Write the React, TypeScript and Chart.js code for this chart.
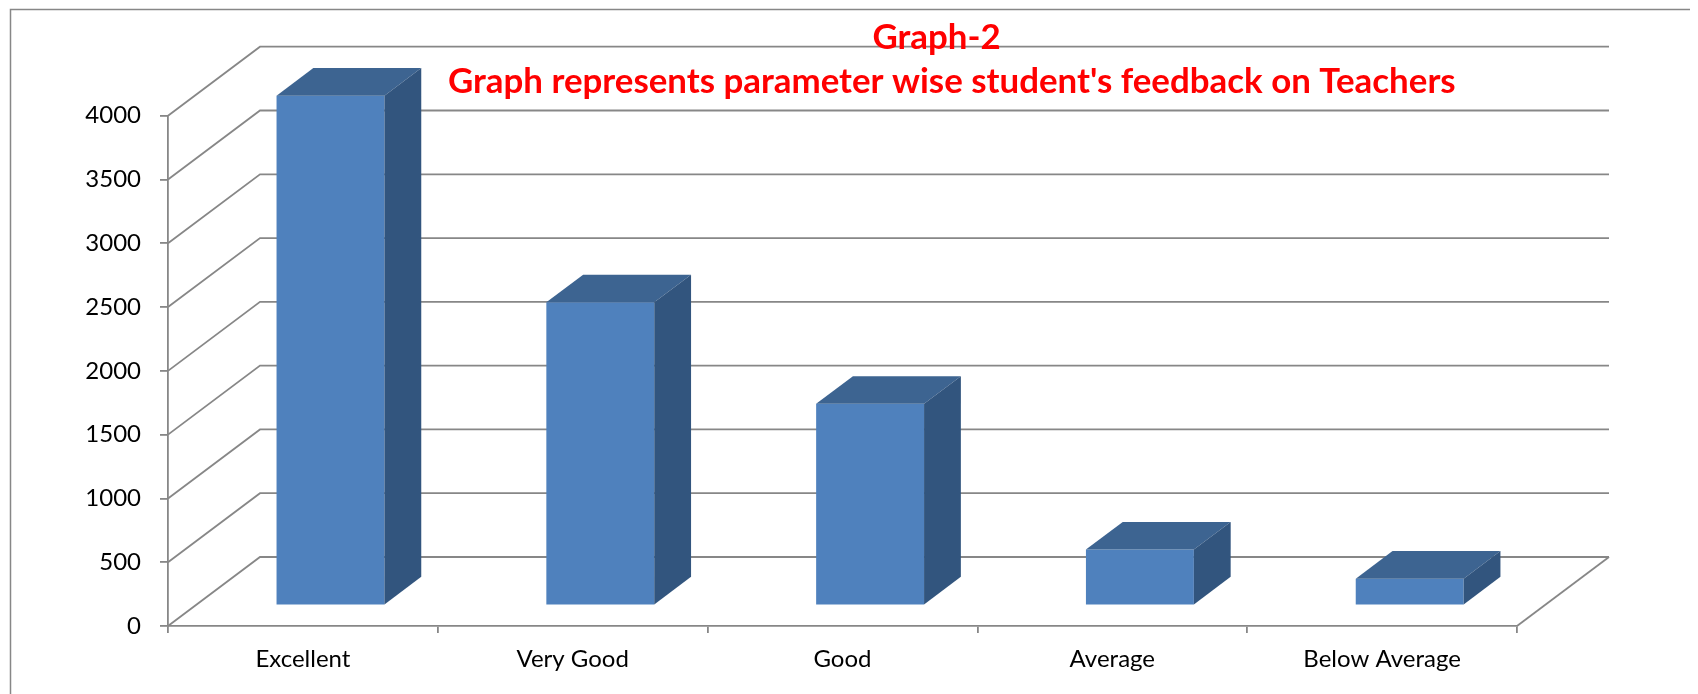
import React, { useEffect, useRef } from 'react';
import { Chart, registerables } from 'chart.js';

Chart.register(...registerables);

// ---- data ----
const categories = ['Excellent', 'Very Good', 'Good', 'Average', 'Below Average'];
const feedbackCounts = [3995, 2375, 1580, 437, 209];
const yMin = 0;
const yMax = 4000;
const yStep = 500;
const titleLines = ['Graph-2', "Graph represents parameter wise student's feedback on Teachers"];

// ---- style ----
const GRID = '#878787';
const FRONT = '#4F81BD';
const TOP = '#3D6491';
const SIDE = '#32557E';
const TITLE_RED = '#FF0000';
const FONT = 'Lato, "Open Sans", sans-serif';
// projection of the chart depth (wall offset)
const DX = 92;
const DY = -69;
const BAR_FRONT = 0.3;
const BAR_DEPTH = 0.4;
const LINE_W = 1.8;

const threeDPlugin = {
  id: 'threeD',
  beforeDraw(chart: any) {
    const { ctx } = chart;
    ctx.save();
    ctx.fillStyle = '#ffffff';
    ctx.fillRect(0, 0, chart.width, chart.height);
    ctx.strokeStyle = GRID;
    ctx.lineWidth = 1.5;
    ctx.beginPath();
    ctx.moveTo(2.5, chart.height + 10);
    ctx.lineTo(2.5, 1.5);
    ctx.lineTo(chart.width + 10, 1.5);
    ctx.stroke();
    ctx.restore();
  },
  beforeDatasetsDraw(chart: any) {
    const { ctx, chartArea, scales } = chart;
    const y = scales.y;
    ctx.save();
    ctx.strokeStyle = GRID;
    ctx.lineWidth = LINE_W;
    y.ticks.forEach((t: any) => {
      const py = y.getPixelForValue(t.value);
      ctx.beginPath();
      ctx.moveTo(chartArea.left, py);
      ctx.lineTo(chartArea.left + DX, py + DY);
      ctx.lineTo(chartArea.right + DX, py + DY);
      ctx.stroke();
    });
    const p0 = y.getPixelForValue(yMin);
    ctx.beginPath();
    ctx.moveTo(chartArea.right, p0);
    ctx.lineTo(chartArea.right + DX, p0 + DY);
    ctx.stroke();
    ctx.restore();
    ctx.save();
    ctx.translate(BAR_FRONT * DX, BAR_FRONT * DY);
  },
  afterDatasetsDraw(chart: any) {
    const { ctx } = chart;
    ctx.restore();
    const fx = BAR_FRONT * DX;
    const fy = BAR_FRONT * DY;
    const bx = BAR_DEPTH * DX;
    const by = BAR_DEPTH * DY;
    const meta = chart.getDatasetMeta(0);
    ctx.save();
    meta.data.forEach((bar: any) => {
      const { x, y, base, width } = bar.getProps(['x', 'y', 'base', 'width'], true);
      const L = x - width / 2 + fx;
      const R = x + width / 2 + fx;
      const T = y + fy;
      const B = base + fy;
      ctx.fillStyle = TOP;
      ctx.beginPath();
      ctx.moveTo(L, T);
      ctx.lineTo(R, T);
      ctx.lineTo(R + bx, T + by);
      ctx.lineTo(L + bx, T + by);
      ctx.closePath();
      ctx.fill();
      ctx.fillStyle = SIDE;
      ctx.beginPath();
      ctx.moveTo(R, T);
      ctx.lineTo(R + bx, T + by);
      ctx.lineTo(R + bx, B + by);
      ctx.lineTo(R, B);
      ctx.closePath();
      ctx.fill();
    });
    ctx.restore();
  },
  afterDraw(chart: any) {
    const { ctx } = chart;
    ctx.save();
    ctx.font = `bold 30px ${FONT}`;
    const w = ctx.measureText(titleLines[1]).width;
    const size = (30 * 1008) / w;
    ctx.font = `bold ${size}px ${FONT}`;
    ctx.fillStyle = TITLE_RED;
    ctx.textAlign = 'center';
    ctx.textBaseline = 'alphabetic';
    ctx.fillText(titleLines[0], 928.5, 41);
    ctx.fillText(titleLines[1], 943.8, 85);
    ctx.restore();
  },
};

export default function App() {
  const ref = useRef<HTMLCanvasElement | null>(null);
  useEffect(() => {
    document.documentElement.style.overflow = 'hidden';
    const canvas = ref.current;
    if (!canvas) return;
    const chart = new Chart(canvas, {
      type: 'bar',
      data: {
        labels: categories,
        datasets: [
          {
            label: 'Feedback',
            data: feedbackCounts,
            backgroundColor: FRONT,
            borderWidth: 0,
            barPercentage: 0.4,
            categoryPercentage: 1.0,
            clip: false as any,
          },
        ],
      },
      options: {
        animation: false,
        responsive: false,
        devicePixelRatio: 1,
        layout: { padding: { top: 107.7, right: 181, bottom: 0, left: 0 } },
        plugins: {
          legend: { display: false },
          tooltip: { enabled: false },
          title: { display: false },
        },
        scales: {
          x: {
            type: 'category',
            grid: {
              offset: true,
              drawOnChartArea: false,
              drawTicks: true,
              tickLength: 7,
              color: GRID,
              lineWidth: LINE_W,
            },
            border: { display: true, color: GRID, width: LINE_W },
            ticks: {
              font: { family: FONT, size: 24 },
              color: '#000000',
              padding: 12,
              maxRotation: 0,
              autoSkip: false,
            },
            afterFit: (s: any) => {
              s.height = 68;
            },
          },
          y: {
            min: yMin,
            max: yMax,
            ticks: {
              stepSize: yStep,
              font: { family: FONT, size: 24 },
              color: '#000000',
              padding: 19,
              callback: (v: any) => String(v),
            },
            grid: {
              drawOnChartArea: false,
              drawTicks: true,
              tickLength: 8,
              color: GRID,
              lineWidth: LINE_W,
            },
            border: { display: true, color: GRID, width: LINE_W },
            afterFit: (s: any) => {
              s.width = 160;
            },
          },
        },
      },
      plugins: [threeDPlugin],
    });
    return () => chart.destroy();
  }, []);
  return (
    <canvas
      ref={ref}
      width={1690}
      height={686}
      style={{ display: 'block', width: 1690, height: 686 }}
    />
  );
}
